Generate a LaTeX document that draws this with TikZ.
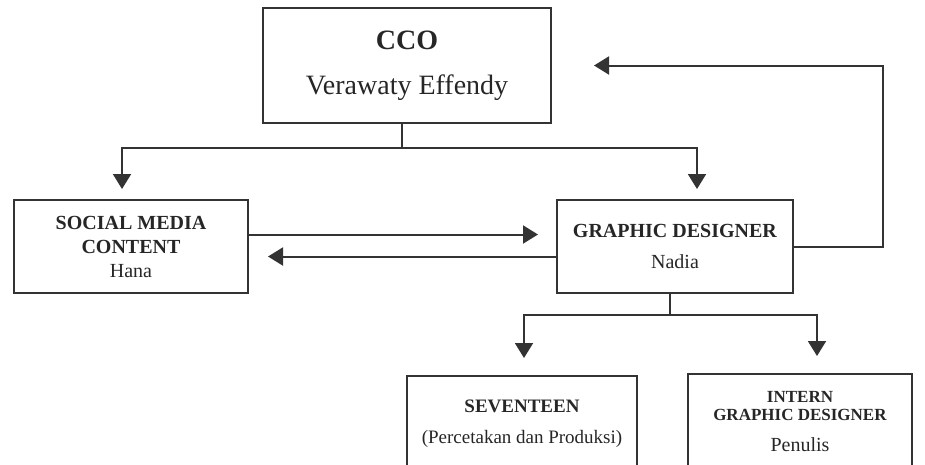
\documentclass[tikz,border=0pt]{standalone}
\usepackage{fontspec}
\setmainfont{Liberation Serif}
\usetikzlibrary{arrows.meta}
\definecolor{linegray}{HTML}{333333}
\tikzset{
  box/.style={draw=linegray, line width=2pt, align=center, inner sep=0pt, text=black!85},
  arr/.style={draw=linegray, line width=2pt, -{Triangle[width=18pt,length=15pt]}},
  conn/.style={draw=linegray, line width=2pt}
}
\begin{document}
\begin{tikzpicture}[x=1pt, y=-1pt]
    \useasboundingbox (0,0) rectangle (925,464);
    \clip (0,0) rectangle (925,464);

    \node[box, minimum width=288pt, minimum height=115pt,
      font=\fontsize{28}{45}\selectfont] (cco) at (407,65.5)
      {\textbf{CCO}\\Verawaty Effendy};
    \node[box, minimum width=234pt, minimum height=93pt,
      font=\fontsize{20}{24}\selectfont] (smc) at (131,246.5)
      {\textbf{SOCIAL MEDIA}\\\textbf{CONTENT}\\Hana};
    \node[box, minimum width=236pt, minimum height=93pt,
      font=\fontsize{20}{31}\selectfont] (gd) at (675,246.5)
      {\textbf{GRAPHIC DESIGNER}\\Nadia};
    \node[box, minimum width=230pt, minimum height=96pt,
      font=\fontsize{19}{31}\selectfont] (sev) at (522,424)
      {\textbf{SEVENTEEN}\\(Percetakan dan Produksi)};
    \node[box, minimum width=224pt, minimum height=96pt,
      font=\fontsize{17}{18}\selectfont] (intern) at (800,422)
      {\textbf{INTERN}\\\textbf{GRAPHIC DESIGNER}\\[13pt]{\fontsize{20}{20}\selectfont Penulis}};

    % CCO down to both
    \draw[conn] ([xshift=-5pt]cco.south) -- ++(0,24) coordinate (top);
    \draw[arr, shorten >=10pt] (top) -| ([xshift=-9pt]smc.north);
    \draw[arr, shorten >=10pt] (top) -| ([xshift=22pt]gd.north);

    % between smc and gd
    \draw[arr, shorten >=18pt] ([yshift=12pt]smc.east) -- ([yshift=12pt]gd.west);
    \draw[arr, shorten >=19pt] ([yshift=-10pt]gd.west) -- ([yshift=-10pt]smc.east);

    % back to CCO
    \draw[arr, shorten >=42pt] (gd.east) -- ++(89,0) |- (cco.east);

    % gd down to both
    \draw[conn] ([xshift=-5pt]gd.south) -- ++(0,21) coordinate (low);
    \draw[arr, shorten >=17pt] (low) -| ([xshift=2pt]sev.north);
    \draw[arr, shorten >=17pt] (low) -| ([xshift=17pt]intern.north);

  \end{tikzpicture}
\end{document}
